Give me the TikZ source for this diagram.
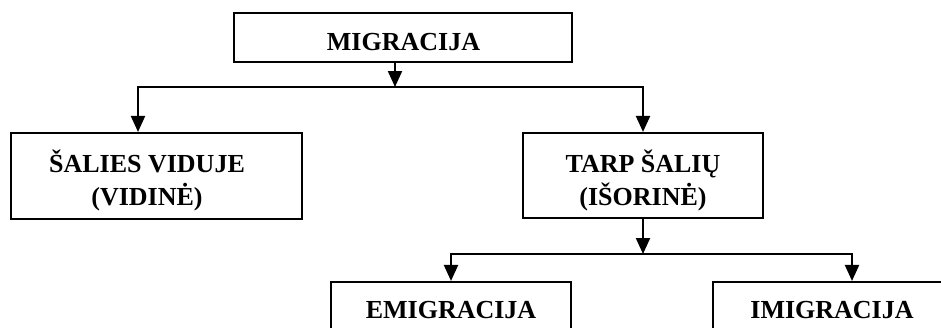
\documentclass[tikz,border=0pt]{standalone}
\usepackage{fontspec}
\setmainfont{Liberation Serif}
\usetikzlibrary{arrows.meta}
\begin{document}
\begin{tikzpicture}[x=1pt,y=-1pt,
  box/.style={draw, line width=2.1pt, inner sep=0pt},
  lbl/.style={font=\fontsize{26}{33}\selectfont\bfseries, align=center, inner sep=0pt},
  arr/.style={line width=2.1pt, -{Triangle[length=16pt,width=14pt]}}]
\useasboundingbox (0,0) rectangle (941,327);
\clip (0,0) rectangle (941,327);
% boxes
\node[box, minimum width=338pt, minimum height=49pt] (m) at (403,37.5) {};
\node[box, minimum width=291pt, minimum height=86pt] (s) at (156.5,176) {};
\node[box, minimum width=240pt, minimum height=85pt] (t) at (643,175.5) {};
\node[box, minimum width=240pt, minimum height=86pt] (e) at (451,325) {};
\node[box, minimum width=240pt, minimum height=86pt] (i) at (833,325) {};
% texts
\node[lbl, anchor=base] (mt) at (403.5,50) {MIGRACIJA};
\node[lbl, anchor=base] (st) at (147,205) {ŠALIES VIDUJE\\(VIDINĖ)};
\node[lbl, anchor=base] (tt) at (643,205) {TARP ŠALIŲ\\(IŠORINĖ)};
\node[lbl, anchor=base] (et) at (451,318) {EMIGRACIJA};
\node[lbl, anchor=base] (it) at (832,318) {IMIGRACIJA};
% junctions
\coordinate (j1) at (395,87);
\coordinate (a1) at (138,0);
\coordinate (j2) at (643,254);
\coordinate (a2) at (852,0);
% connectors
\draw[arr] (m.south -| j1) -- (j1);
\draw[arr] (j1) -| (s.north -| a1);
\draw[arr] (j1) -| (t.north);
\draw[arr] (t.south) -- (j2);
\draw[arr] (j2) -| (e.north);
\draw[arr] (j2) -| (i.north -| a2);
\end{tikzpicture}
\end{document}
